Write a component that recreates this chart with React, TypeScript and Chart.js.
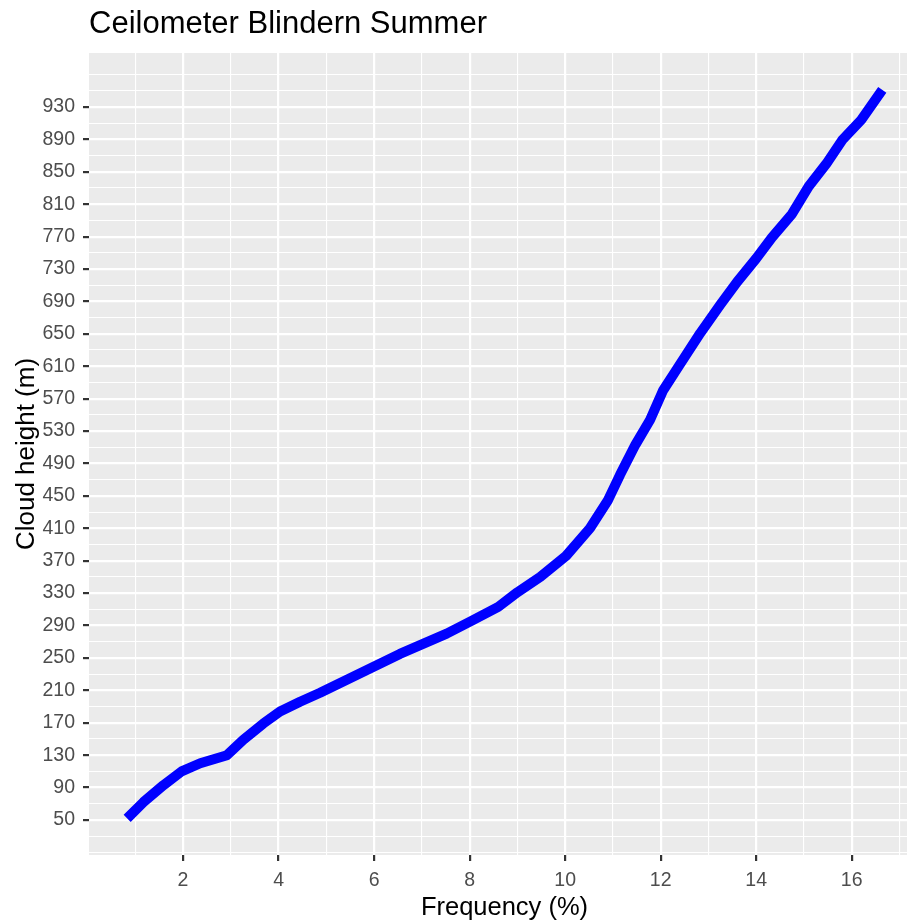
import React, { useEffect, useRef } from "react";
import { Chart, registerables } from "chart.js";

Chart.register(...registerables);

const TITLE = "Ceilometer Blindern Summer";
const X_TITLE = "Frequency (%)";
const Y_TITLE = "Cloud height (m)";

const frequency = [
  0.83, 1.17, 1.59, 1.97, 2.36, 2.92, 3.26, 3.68, 4.03, 4.45,
  4.87, 5.43, 5.99, 6.54, 7.52, 8.05, 8.6, 9.0, 9.48, 10.02,
  10.52, 10.9, 11.15, 11.47, 11.78, 12.05, 12.4, 12.83, 13.25, 13.6,
  14.0, 14.33, 14.75, 15.1, 15.47, 15.8, 16.2, 16.64,
];
const cloudHeight = [
  52, 72, 93, 110, 120, 130, 149, 169, 184, 196,
  207, 223, 239, 255, 280, 296, 313, 331, 350, 376,
  410, 445, 476, 513, 544, 580, 612, 651, 686, 714,
  743, 769, 798, 832, 860, 889, 914, 951,
];

const xTickLabels = [2, 4, 6, 8, 10, 12, 14, 16];
const yTickLabels = [
  50, 90, 130, 170, 210, 250, 290, 330, 370, 410, 450, 490,
  530, 570, 610, 650, 690, 730, 770, 810, 850, 890, 930,
];
// grid line positions (major + minor)
const xGrid = [1, 2, 3, 4, 5, 6, 7, 8, 9, 10, 11, 12, 13, 14, 15, 16, 17];
const yGrid: number[] = [];
for (let v = 10; v <= 970; v += 20) yGrid.push(v);

const X_MIN = 0.031;
const X_MAX = 17.43;
const Y_MIN = 6.8;
const Y_MAX = 996.6;

const FONT = "'Liberation Sans', Arial, sans-serif";

export default function App() {
  const ref = useRef<HTMLCanvasElement>(null);

  useEffect(() => {
    const canvas = ref.current;
    if (!canvas) return;

    const panelBg = {
      id: "panelBg",
      beforeDraw(chart: any) {
        const { ctx, chartArea: a } = chart;
        ctx.save();
        ctx.fillStyle = "#EBEBEB";
        ctx.fillRect(a.left, a.top, a.right - a.left, a.bottom - a.top);
        ctx.restore();
      },
    };

    const titles = {
      id: "titles",
      afterDraw(chart: any) {
        const { ctx, chartArea: a } = chart;
        ctx.save();
        ctx.fillStyle = "#000000";
        ctx.textBaseline = "alphabetic";
        ctx.font = `31px ${FONT}`;
        ctx.textAlign = "left";
        ctx.fillText(TITLE, a.left, 33);
        ctx.font = `25.5px ${FONT}`;
        ctx.textAlign = "center";
        ctx.fillText(X_TITLE, (a.left + a.right) / 2, 915);
        ctx.font = `26px ${FONT}`;
        ctx.translate(34, (a.top + a.bottom) / 2);
        ctx.rotate(-Math.PI / 2);
        ctx.fillText(Y_TITLE, 0, 0);
        ctx.restore();
      },
    };

    const isMajorX = (v: number) => xTickLabels.includes(v);
    const isMajorY = (v: number) => yTickLabels.includes(v);

    const chart = new Chart(canvas, {
      type: "line",
      data: {
        datasets: [
          {
            data: frequency.map((f, i) => ({ x: f, y: cloudHeight[i] })),
            borderColor: "#0000FF",
            borderWidth: 10,
            pointRadius: 0,
            borderCapStyle: "butt",
            borderJoinStyle: "round",
            tension: 0,
            fill: false,
          },
        ],
      },
      options: {
        animation: false,
        responsive: false,
        maintainAspectRatio: false,
        layout: { padding: { top: 53, right: 1, left: 0, bottom: 0 } },
        plugins: {
          legend: { display: false },
          tooltip: { enabled: false },
          title: { display: false },
        },
        scales: {
          x: {
            type: "linear",
            min: X_MIN,
            max: X_MAX,
            afterBuildTicks: (s: any) => {
              s.ticks = xGrid.map((v) => ({ value: v }));
            },
            afterFit: (s: any) => {
              s.height = 67;
            },
            ticks: {
              autoSkip: false,
              maxRotation: 0,
              padding: 8,
              color: "#4D4D4D",
              font: { family: FONT, size: 19.5 },
              callback: (v: any) => (isMajorX(Number(v)) ? String(v) : ""),
            },
            grid: {
              color: "#FFFFFF",
              lineWidth: (c: any) => (c.tick && isMajorX(c.tick.value) ? 2.2 : 1.1),
              drawTicks: true,
              tickLength: 6,
              tickWidth: 2.2,
              tickColor: (c: any) =>
                c.tick && isMajorX(c.tick.value) ? "#333333" : "rgba(0,0,0,0)",
            },
            border: { display: false },
          },
          y: {
            type: "linear",
            min: Y_MIN,
            max: Y_MAX,
            afterBuildTicks: (s: any) => {
              s.ticks = yGrid.map((v) => ({ value: v }));
            },
            afterFit: (s: any) => {
              s.width = 89;
            },
            ticks: {
              autoSkip: false,
              padding: 8,
              color: "#4D4D4D",
              font: { family: FONT, size: 19.5 },
              callback: (v: any) => (isMajorY(Number(v)) ? String(v) : ""),
            },
            grid: {
              color: "#FFFFFF",
              lineWidth: (c: any) => (c.tick && isMajorY(c.tick.value) ? 2.2 : 1.1),
              drawTicks: true,
              tickLength: 6,
              tickWidth: 2.2,
              tickColor: (c: any) =>
                c.tick && isMajorY(c.tick.value) ? "#333333" : "rgba(0,0,0,0)",
            },
            border: { display: false },
          },
        },
      } as any,
      plugins: [panelBg, titles],
    });

    return () => chart.destroy();
  }, []);

  return (
    <div
      style={{
        position: "fixed",
        left: 0,
        top: 0,
        width: 907,
        height: 922,
        overflow: "hidden",
        background: "#FFFFFF",
      }}
    >
      <canvas
        ref={ref}
        width={921}
        height={922}
        style={{ display: "block", width: 921, height: 922 }}
      />
    </div>
  );
}
